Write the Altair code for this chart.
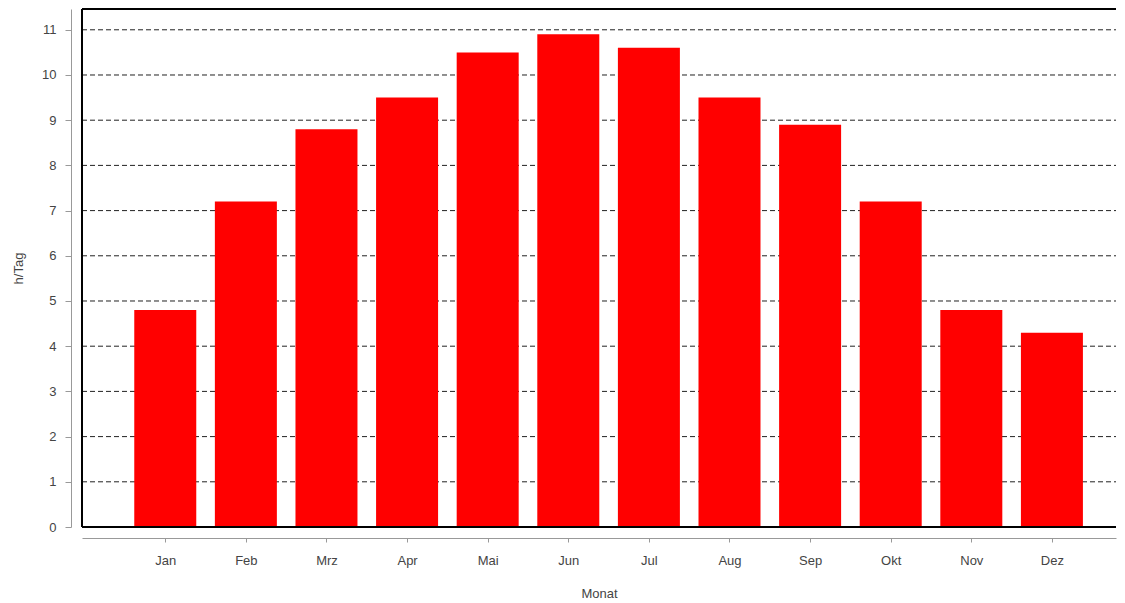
import altair as alt
import pandas as pd

months = ["Jan", "Feb", "Mrz", "Apr", "Mai", "Jun", "Jul", "Aug", "Sep", "Okt", "Nov", "Dez"]
month_num = list(range(1, 13))
hours = [4.8, 7.2, 8.8, 9.5, 10.5, 10.9, 10.6, 9.5, 8.9, 7.2, 4.8, 4.3]
grid_values = list(range(1, 12))

df = pd.DataFrame({"num": month_num, "Monat": months, "h": hours})
grid_df = pd.DataFrame({"g": grid_values})

W = 1034
H = 518
xdom = [-0.033, 12.795]
ydom = [0, 11.46]

label_expr = "[" + ",".join("'%s'" % m for m in months) + "][datum.value - 1]"

xscale = alt.Scale(domain=xdom, nice=False, zero=False, padding=0)
yscale = alt.Scale(domain=ydom, nice=False)

grid = alt.Chart(grid_df).mark_rule(color="#222222", strokeDash=[5, 3], strokeWidth=1).encode(
    y=alt.Y("g:Q", scale=yscale),
    x=alt.value(0), x2=alt.value(W)
)

bars = alt.Chart(df).mark_bar(size=62, color="#FF0000").encode(
    x=alt.X("num:Q", scale=xscale, title="Monat",
            axis=alt.Axis(values=month_num, labelExpr=label_expr, grid=False, offset=11,
                          tickSize=4, labelPadding=12, titlePadding=20,
                          domainColor="#999999", tickColor="#999999")),
    y=alt.Y("h:Q", scale=yscale, title="h/Tag",
            axis=alt.Axis(values=list(range(0, 12)), grid=False, offset=11,
                          tickSize=6, labelPadding=9, titlePadding=16,
                          domainColor="#999999", tickColor="#999999")),
    tooltip=["Monat", "h"]
)

frame_left = alt.Chart(df).mark_rule(color="black", strokeWidth=1.5).encode(
    x=alt.value(0), y=alt.value(0), y2=alt.value(H))
frame_top = alt.Chart(df).mark_rule(color="black", strokeWidth=1.5).encode(
    x=alt.value(0), x2=alt.value(W), y=alt.value(0))
frame_bottom = alt.Chart(df).mark_rule(color="black", strokeWidth=1.5).encode(
    x=alt.value(0), x2=alt.value(W), y=alt.value(H))

chart = alt.layer(grid, bars, frame_left, frame_top, frame_bottom).properties(
    width=W, height=H,
    padding={"left": 4, "top": 0, "right": 0, "bottom": 0}
).configure_view(stroke=None).configure_axis(
    labelFont="Liberation Sans", titleFont="Liberation Sans",
    labelFontSize=13, titleFontSize=13, labelColor="#444444", titleColor="#444444",
    titleFontWeight="normal"
)

chart.save("out.html", embed_options={"renderer": "svg", "actions": False})
